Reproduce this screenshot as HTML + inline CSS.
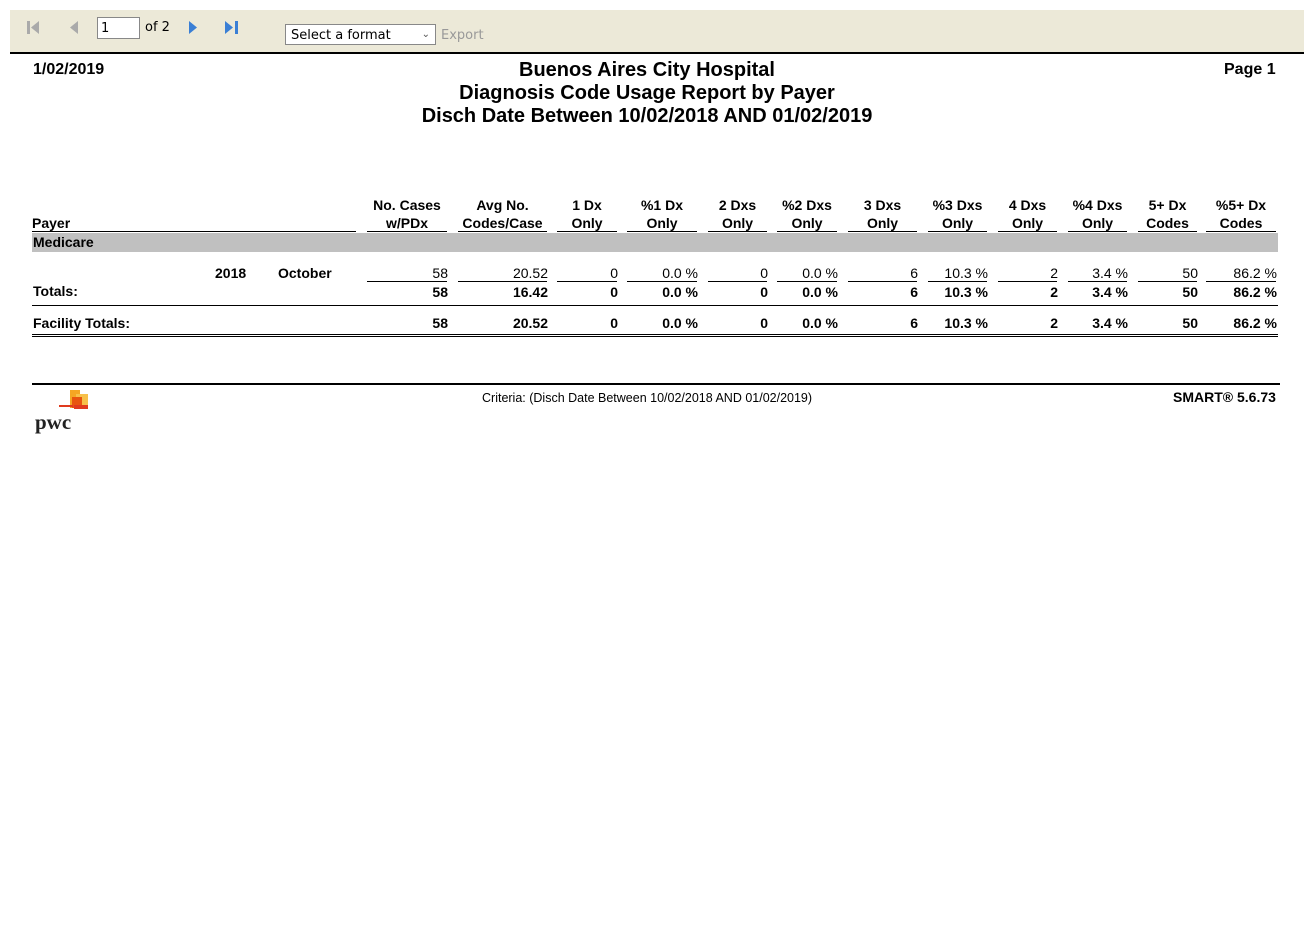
<!DOCTYPE html>
<html><head><meta charset="utf-8"><style>
body{margin:0;width:1312px;height:937px;background:#fff;font-family:"Liberation Sans",Arial,sans-serif;position:relative;overflow:hidden}
.a{position:absolute;white-space:nowrap}
.b{font-weight:bold}
.r{text-align:right}
.c{text-align:center}
#tb{position:absolute;left:10px;top:10px;width:1294px;height:42px;background:#ece9d8;border-bottom:2px solid #000}
.tbt{font-family:"DejaVu Sans",Verdana,sans-serif;font-size:13px}
</style></head><body>
<div id="tb"></div>
<svg class="a" style="left:26px;top:20px" width="230" height="16">
<g><rect x="1" y="1" width="3" height="13" fill="#aaa"/><polygon points="13,1 13,14 5,7.5" fill="#aaa"/></g>
<g><polygon points="52,1 52,14 44,7.5" fill="#aaa"/></g>
<g><polygon points="163,1 163,14 171,7.5" fill="#3a7fd5"/></g>
<g><polygon points="199,1 199,14 207,7.5" fill="#3a7fd5"/><rect x="209" y="1" width="3" height="13" fill="#3a7fd5"/></g>
</svg>
<div class="a tbt" style="left:97px;top:17px;width:43px;height:22px;border:1px solid #888;background:#fff;line-height:22px;padding-left:3px;box-sizing:border-box">1</div>
<div class="a tbt" style="left:145px;top:20px">of 2</div>
<div class="a tbt" style="left:285px;top:24px;width:151px;height:21px;border:1px solid #888;background:#fff;box-sizing:border-box;padding-left:5px;line-height:21px">Select a format<span style="position:absolute;right:5px;top:-1px;font-size:10px;color:#555">&#8964;</span></div>
<div class="a tbt" style="left:441px;top:28px;color:#999">Export</div>

<div class="a b" style="left:33px;top:61px;font-size:16px">1/02/2019</div>
<div class="a b" style="left:1224px;top:61px;font-size:16px">Page 1</div>
<div class="a b c" style="left:347px;width:600px;top:59px;font-size:20px;line-height:23px">Buenos Aires City Hospital<br>Diagnosis Code Usage Report by Payer<br>Disch Date Between 10/02/2018 AND 01/02/2019</div>

<div class="a b" style="left:32px;top:215px;font-size:14px">Payer</div>
<div class="a" style="left:32px;top:231px;width:324px;border-top:1px solid #000"></div>
<div class="a" style="left:32px;top:233px;width:1246px;height:19px;background:#c0c0c0"></div>
<div class="a b" style="left:33px;top:234px;font-size:14px">Medicare</div>
<div class="a b" style="left:215px;top:265px;font-size:14px">2018</div>
<div class="a b" style="left:278px;top:265px;font-size:14px">October</div>
<div class="a b" style="left:33px;top:283px;font-size:14px">Totals:</div>
<div class="a" style="left:32px;top:305px;width:1246px;border-top:1px solid #000"></div>
<div class="a b" style="left:33px;top:315px;font-size:14px">Facility Totals:</div>
<div class="a" style="left:32px;top:334px;width:1246px;height:1px;border-top:1px solid #000;border-bottom:1px solid #000"></div>

<div class="a" style="left:32px;top:383px;width:1248px;border-top:2px solid #000"></div>
<svg class="a" style="left:34px;top:389px" width="60" height="45">
<rect x="36" y="1" width="10" height="18" fill="#f5a623"/><rect x="42" y="5" width="12" height="14" fill="#f7c04a"/><rect x="38" y="8" width="10" height="11" fill="#e8550f"/><rect x="40" y="16" width="14" height="4" fill="#e03a1e"/><rect x="25" y="16" width="14" height="2" fill="#e03a1e"/>
<text x="1" y="40" font-family="Liberation Serif,serif" font-weight="bold" font-size="21" fill="#222">pwc</text></svg>
<div class="a" style="left:482px;top:391px;font-size:12.5px">Criteria: (Disch Date Between 10/02/2018 AND 01/02/2019)</div>
<div class="a b" style="left:1173px;top:389px;font-size:14px">SMART® 5.6.73</div>

<div id="cols"></div>
<script>
const headers1=["No. Cases","Avg No.","1 Dx","%1 Dx","2 Dxs","%2 Dxs","3 Dxs","%3 Dxs","4 Dxs","%4 Dxs","5+ Dx","%5+ Dx"];
const headers2=["w/PDx","Codes/Case","Only","Only","Only","Only","Only","Only","Only","Only","Codes","Codes"];
const rowValues=["58","20.52","0","0.0 %","0","0.0 %","6","10.3 %","2","3.4 %","50","86.2 %"];
const totalValues=["58","16.42","0","0.0 %","0","0.0 %","6","10.3 %","2","3.4 %","50","86.2 %"];
const facilityValues=["58","20.52","0","0.0 %","0","0.0 %","6","10.3 %","2","3.4 %","50","86.2 %"];
const L=[367,458,557,627,708,777,848,928,998,1068,1138,1206];
const R=[447,547,617,697,767,837,917,987,1057,1127,1197,1276];
const host=document.getElementById('cols');
function add(x,y,w,txt,cls,name,extra){const d=document.createElement('div');d.className='a '+cls;d.style.left=x+'px';d.style.top=y+'px';d.style.width=w+'px';d.style.fontSize='14px';if(extra)d.style.cssText+=extra;d.innerHTML=txt;


host.appendChild(d);}
for(let i=0;i<12;i++){const w=R[i]-L[i];
add(L[i]-10,196,w+20,headers1[i]+'<br>'+headers2[i],'b c','column-header','line-height:18px');
add(L[i],231,w,'','','header-underline','border-top:1px solid #000;height:0');
add(L[i],265,w+1,rowValues[i],'r','row-value','');
add(L[i],281,w,'','','row-underline','border-top:1px solid #000;height:0');
add(L[i],284,w+1,totalValues[i],'b r','total-value','');
add(L[i],315,w+1,facilityValues[i],'b r','facility-total-value','');}
</script>
</body></html>
